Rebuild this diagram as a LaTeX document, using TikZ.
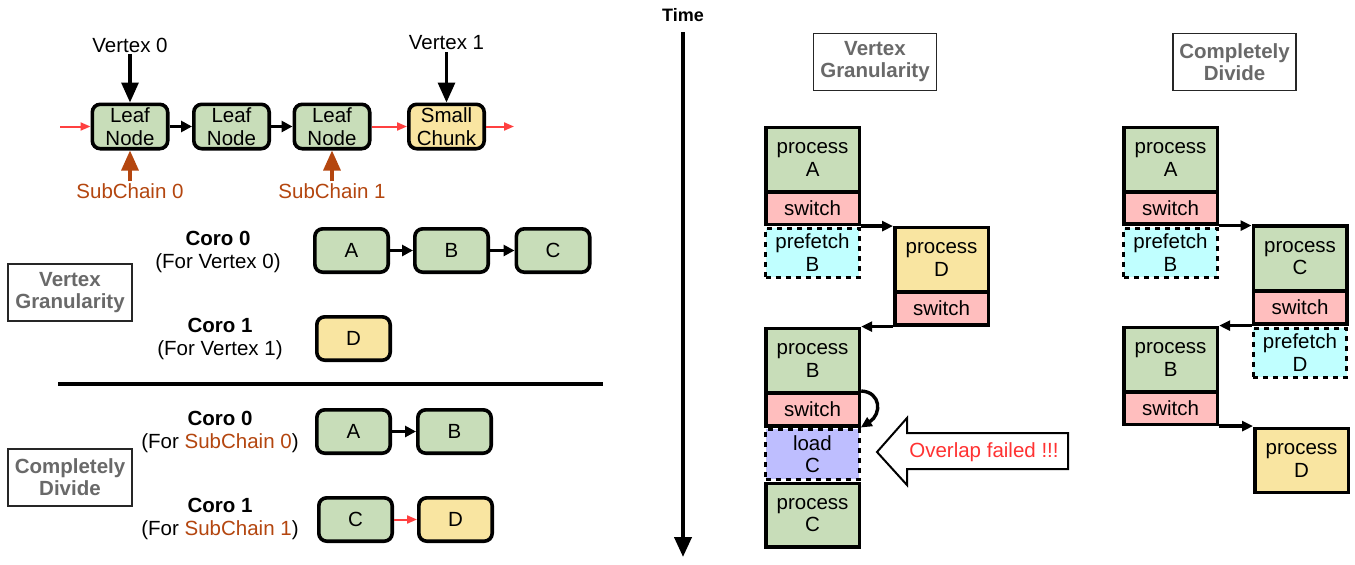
\documentclass[tikz,border=0pt]{standalone}
\usepackage{fontspec}
\setmainfont{Liberation Sans}
\usetikzlibrary{arrows.meta}
\definecolor{cgreen}{RGB}{200,221,185}
\definecolor{cyellow}{RGB}{249,229,161}
\definecolor{cpink}{RGB}{255,190,190}
\definecolor{ccyan}{RGB}{192,255,255}
\definecolor{clav}{RGB}{190,190,255}
\definecolor{cbrown}{RGB}{180,70,15}
\definecolor{cgray}{RGB}{105,105,105}
\definecolor{cred}{RGB}{255,64,64}
\definecolor{ctxtred}{RGB}{255,50,50}
\newcommand\myfs[2]{\fontsize{#1}{#2}\selectfont}
\begin{document}
\begin{tikzpicture}[x=1pt,y=-1pt,
  lbl/.style={inner sep=2pt, align=center, font=\myfs{20.5}{23}},
  rbox/.style={draw, line width=3.6pt, rounded corners=8pt, inner sep=0pt, align=center, font=\myfs{20.5}{23}},
  leafbox/.style={rbox, fill=cgreen, minimum width=75.4pt, minimum height=44.4pt},
  chunkbox/.style={rbox, fill=cyellow, minimum width=75.4pt, minimum height=44.4pt},
  corog/.style={rbox, fill=cgreen, minimum width=73.4pt, minimum height=43.4pt},
  coroy/.style={rbox, fill=cyellow, minimum width=73.4pt, minimum height=43.4pt},
  grlabel/.style={draw=black!85, line width=1.2pt, inner sep=0pt, minimum width=124pt, minimum height=57pt, align=center, text=cgray, font=\bfseries\myfs{20.5}{22}},
  seg/.style={draw, line width=3.6pt, inner sep=0pt, anchor=north west, minimum width=93.6pt, align=center, font=\myfs{20.5}{22.5}},
  procg/.style={seg, fill=cgreen, minimum height=64.5pt},
  procy/.style={seg, fill=cyellow, minimum height=64.5pt},
  swseg/.style={seg, fill=cpink, minimum height=33pt},
  pfseg/.style={seg, fill=ccyan, minimum height=49pt, line width=3.2pt, dash pattern=on 5pt off 5pt},
  ldseg/.style={seg, fill=clav, minimum height=50pt, line width=3.2pt, dash pattern=on 5pt off 5pt},
  bigarr/.style={line width=3.2pt, -{Triangle[width=17pt,length=20pt]}},
  midarr/.style={line width=3.4pt, -{Triangle[width=11pt,length=11pt]}},
  segarr/.style={line width=3.4pt, -{Triangle[width=10pt,length=11pt]}},
  redarr/.style={draw=cred, line width=2pt, -{Triangle[width=8pt,length=10pt]}}
]
\useasboundingbox (0,0) rectangle (1355,565);
\fill[white] (0,0) rectangle (1355,565);

% ---------- top chain ----------
\node[lbl] (v0) at (130,45) {Vertex 0};
\node[lbl] (v1) at (446.5,43) {Vertex 1};
\node[leafbox] (l1) at (130,126.5) {Leaf\\Node};
\node[leafbox] (l2) at (231.5,126.5) {Leaf\\Node};
\node[leafbox] (l3) at (332,126.5) {Leaf\\Node};
\node[chunkbox] (l4) at (446.5,126.5) {Small\\Chunk};
\node[lbl, text=cbrown] (s0) at (130,191) {SubChain 0};
\node[lbl, text=cbrown] (s1) at (332,191) {SubChain 1};
\coordinate (rin) at (60,126.5);
\coordinate (rout) at (514,126.5);
\draw[bigarr] (v0) -- (l1);
\draw[bigarr] (v1) -- (l4);
\draw[bigarr, cbrown] (s0) -- (l1);
\draw[bigarr, cbrown] (s1) -- (l3);
\draw[midarr] (l1) -- (l2);
\draw[midarr] (l2) -- (l3);
\draw[redarr] (rin) -- (l1);
\draw[redarr] (l3) -- (l4);
\draw[redarr] (l4) -- (rout);

% ---------- coroutine assignment ----------
\node[grlabel] (lvg) at (70,292.5) {Vertex\\Granularity};
\node[grlabel] (lcd) at (70,477.5) {Completely\\Divide};

\node[lbl] (c0) at (218,251.5) {\textbf{Coro 0}\\(For Vertex 0)};
\node[lbl] (c1) at (220,338.5) {\textbf{Coro 1}\\(For Vertex 1)};
\node[lbl] (c2) at (220,431.5) {\textbf{Coro 0}\\(For \textcolor{cbrown}{SubChain 0})};
\node[lbl] (c3) at (220,518.5) {\textbf{Coro 1}\\(For \textcolor{cbrown}{SubChain 1})};

\node[corog] (ba) at (351.5,250.5) {A};
\node[corog] (bb) at (451.5,250.5) {B};
\node[corog] (bc) at (553,250.5) {C};
\node[coroy] (bd) at (353.5,338.5) {D};
\draw[midarr] (ba) -- (bb);
\draw[midarr] (bb) -- (bc);

\coordinate (d1) at (58,384);
\coordinate (d2) at (603,384);
\draw[line width=3.2pt] (d1) -- (d2);

\node[corog] (ba2) at (353.5,431.5) {A};
\node[corog] (bb2) at (454.5,431.5) {B};
\node[corog] (bc2) at (355.5,519.5) {C};
\node[coroy] (bd2) at (455.5,519.5) {D};
\draw[midarr] (ba2) -- (bb2);
\draw[redarr] (bc2) -- (bd2);

% ---------- time axis ----------
\node[font=\bfseries\myfs{18}{20}] (time) at (683,15) {Time};
\coordinate (tstart) at (683,32);
\coordinate (tend) at (683,557);
\draw[line width=4pt, -{Triangle[width=17pt,length=20pt]}] (tstart) -- (tend);

% ---------- vertex granularity timeline ----------
\node[grlabel, minimum width=123pt] (rvg) at (875,62) {Vertex\\Granularity};
\node[pfseg] (pfB) at (764,226.5) {prefetch\\B};
\node[ldseg] (ldC) at (764,427.5) {load\\C};
\node[procg] (pA) at (764,125.5) {process\\A};
\node[swseg, minimum height=32.5pt] (sw1) at (764,190) {switch};
\node[procy] (pD) at (893,225.5) {process\\D};
\node[swseg] (swD) at (893,290) {switch};
\node[procg] (pB) at (764,326.5) {process\\B};
\node[swseg] (swB) at (764,391) {switch};
\node[procg, minimum height=63.5pt] (pC) at (764,481.5) {process\\C};
\draw[segarr] (sw1.south east) -- (sw1.south east -| pD.west);
\draw[segarr] (swD.south west) -- (swD.south west -| pB.east);
\draw[segarr] (swB.north east) .. controls (881,392) and (882,414) .. (ldC.north east);

\draw[line width=2pt, line join=miter, fill=white] (877,452) -- (907,418) -- (907,433) -- (1068,433) -- (1068,469) -- (907,469) -- (907,485) -- cycle;
\node[lbl, text=ctxtred] (ovl) at (984,452) {Overlap failed !!!};

% ---------- completely divide timeline ----------
\node[grlabel, minimum width=123pt] (rcd) at (1234.5,62) {Completely\\Divide};
\node[pfseg] (pfB2) at (1122,226.5) {prefetch\\B};
\node[pfseg] (pfD2) at (1251.5,326.5) {prefetch\\D};
\node[procg] (pA2) at (1122,125.5) {process\\A};
\node[swseg, minimum height=32pt] (sw2) at (1122,190) {switch};
\node[procg, minimum height=65pt] (pC2) at (1251.5,224) {process\\C};
\node[swseg] (swC2) at (1251.5,289) {switch};
\node[procg] (pB2) at (1122,325.5) {process\\B};
\node[swseg, minimum height=32.5pt] (swB2) at (1122,390) {switch};
\node[procy, minimum height=64pt] (pD2) at (1253,426.5) {process\\D};
\draw[segarr] (sw2.south east) -- (sw2.south east -| pC2.west);
\draw[segarr] (swC2.south west) -- (swC2.south west -| pB2.east);
\draw[segarr] (swB2.south east) -- (swB2.south east -| pD2.west);
\end{tikzpicture}
\end{document}
